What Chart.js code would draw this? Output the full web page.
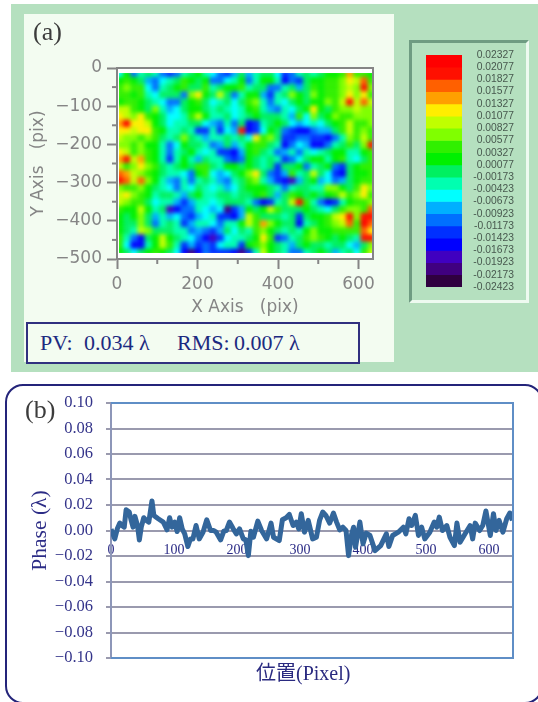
<!DOCTYPE html>
<html>
<head>
<meta charset="utf-8">
<title>Phase map</title>
<script src="https://cdn.jsdelivr.net/npm/chart.js@4"></script>
<style>
html, body { margin: 0; padding: 0; background: #fff; }
#page { position: relative; width: 538px; height: 702px; overflow: hidden; font-family: "Liberation Serif", "Noto Sans CJK JP", serif; }
#page > * { position: absolute; }
canvas { display: block; }
#greenBack { left: 11px; top: 4px; width: 527px; height: 368px; background: #b5e0bf; }
#paleBack { left: 24px; top: 14px; width: 370px; height: 348px; background: #f3fcf1; }
#barBox { left: 409px; top: 40px; width: 114px; height: 257px; background: #b5e0bf; border: 3px solid; border-color: #6f9c82 #eefaf0 #eefaf0 #6f9c82; }
#heatClip { left: 119px; top: 73px; width: 253px; height: 180px; overflow: hidden; }
#heatChart { position: absolute; left: -3px; top: -3px; filter: blur(2px); }
#pvBox { left: 26px; top: 322px; width: 330px; height: 38px; background: #f3fcf1; border: 2px solid #30307f; }
.pv { top: 330px; font-size: 22px; line-height: 26px; color: #1c2a80; white-space: nowrap; }
#roundBox { left: 5px; top: 384px; width: 534px; height: 316px; border: 2px solid #24247a; border-radius: 18px; }
.tag { font-size: 26px; line-height: 30px; color: #3c3c3c; }
#xName { left: 256px; top: 661px; font-size: 20px; line-height: 24px; color: #2a2a80; white-space: nowrap; }
</style>
</head>
<body>
<div id="page">
  <div id="greenBack"></div>
  <div id="paleBack"></div>
  <canvas id="axesChart" width="400" height="330" style="left:0;top:0"></canvas>
  <div id="heatClip"><canvas id="heatChart" width="259" height="186"></canvas></div>
  <div class="tag" style="left:33px;top:17px">(a)</div>
  <div id="pvBox"></div>
  <div class="pv" style="left:40px">PV:</div>
  <div class="pv" style="left:84px">0.034 λ</div>
  <div class="pv" style="left:177px">RMS:</div>
  <div class="pv" style="left:234px">0.007 λ</div>
  <div id="barBox"></div>
  <canvas id="barChart" width="118" height="263" style="left:411px;top:40px"></canvas>
  <div id="roundBox"></div>
  <canvas id="lineChart" width="538" height="318" style="left:0;top:384px"></canvas>
  <div class="tag" style="left:25px;top:395px">(b)</div>
  <div id="xName">位置(Pixel)</div>
</div>
<script>
// leyenda de colores, de arriba a abajo
var barLabels = [0.02327, 0.02077, 0.01827, 0.01577, 0.01327, 0.01077, 0.00827, 0.00577, 0.00327, 0.00077,
    -0.00173, -0.00423, -0.00673, -0.00923, -0.01173, -0.01423, -0.01673, -0.01923, -0.02173, -0.02423];
var barColors = ['#ff0000', '#ff1000', '#ff6000', '#ffa000', '#ffee00', '#c0ff00', '#80ff00', '#30f000', '#00f000', '#00f060',
    '#00ffb0', '#00ffff', '#00b0ff', '#0070ff', '#0030ff', '#0000ff', '#4000c0', '#400080', '#300040'];

// mapa (a): nivel de color de cada celda, 0 = banda mas baja, 18 = banda mas alta
var heatRows = [
    [7,10,5,8,9,8,5,4,5,8,9,10,8,7,5,4,6,9,6,8,9,9,7,4,5,8,9,8,9,10,10,11,15,11,11,10],
    [10,11,10,9,6,5,7,8,9,11,10,9,10,5,5,7,8,10,5,8,10,10,8,3,5,4,9,10,10,11,11,12,14,13,16,11],
    [11,12,11,11,7,5,8,9,10,11,9,9,11,8,9,10,10,11,8,9,9,5,5,8,9,6,9,11,10,11,11,12,13,12,17,12],
    [11,11,10,11,8,7,9,9,9,5,12,14,10,9,13,9,5,8,10,10,6,4,8,9,12,10,9,12,10,11,11,12,14,12,14,11],
    [10,11,11,10,9,8,7,5,5,9,10,11,9,7,8,9,7,9,11,12,8,5,8,7,9,10,9,10,10,12,11,13,17,13,16,13],
    [13,13,11,10,9,12,8,6,7,9,10,10,9,8,9,8,7,8,10,11,8,6,5,8,7,9,10,14,10,9,11,12,12,13,12,12],
    [14,13,12,14,11,10,9,7,7,8,11,13,10,8,8,9,7,8,9,10,9,9,9,8,6,11,7,12,9,10,12,11,11,12,12,12],
    [15,18,14,14,13,10,9,7,8,8,9,9,7,6,5,8,5,9,3,4,8,9,10,9,7,6,7,8,7,9,10,11,13,11,11,12],
    [14,14,13,14,14,11,10,8,8,9,8,4,4,8,4,7,6,17,3,4,7,10,9,5,4,3,3,5,6,6,9,11,13,11,12,11],
    [13,12,12,11,12,11,9,8,9,12,9,8,6,8,8,9,8,9,7,14,11,12,9,4,4,5,5,4,4,3,5,8,12,11,13,11],
    [12,12,11,12,10,10,8,5,7,10,9,9,8,5,6,9,6,8,10,11,11,9,8,3,5,7,6,3,3,5,8,9,11,9,12,17],
    [14,13,11,12,11,10,8,5,8,9,10,8,7,8,4,4,3,6,10,11,9,8,5,6,8,5,8,7,8,9,10,10,8,8,10,11],
    [15,17,13,15,11,10,8,4,8,10,8,6,9,8,8,5,4,5,10,9,8,9,8,4,5,7,9,10,10,8,10,11,8,7,9,11],
    [13,11,12,14,12,11,9,8,9,10,9,11,11,9,8,10,10,9,10,9,8,9,4,9,9,10,5,8,9,10,5,4,9,10,11,11],
    [16,15,13,12,11,10,9,8,8,7,5,10,11,7,6,7,9,10,12,14,9,5,4,6,11,8,9,13,9,7,4,3,9,10,10,11],
    [17,16,13,16,12,10,8,6,5,8,5,8,9,8,6,5,8,9,11,12,8,6,4,3,2,6,9,10,6,7,5,6,9,10,11,11],
    [12,11,11,12,10,9,8,7,5,8,7,9,8,7,8,6,7,9,10,10,10,9,8,5,8,9,9,8,8,12,12,10,9,11,14,12],
    [13,14,12,11,10,8,9,9,8,6,9,10,8,8,9,9,8,9,9,10,11,9,6,9,11,10,9,10,9,10,11,13,11,12,14,11],
    [13,12,11,11,9,7,8,8,6,4,6,8,8,7,8,9,9,9,8,5,3,4,8,9,13,17,11,8,5,3,4,8,10,11,11,12],
    [11,10,10,13,10,8,9,2,3,5,5,8,7,6,7,1,4,6,10,9,10,13,11,9,9,9,10,9,8,7,9,11,12,12,11,16],
    [10,9,10,12,9,6,8,6,7,5,4,6,7,8,4,4,3,6,13,11,9,9,9,8,9,4,9,10,10,11,13,14,17,12,17,17],
    [10,9,9,12,9,5,8,9,8,4,6,8,8,7,5,8,8,10,13,11,15,12,10,9,9,3,8,9,10,11,12,13,16,11,18,16],
    [10,9,8,13,12,9,9,9,8,8,5,6,5,4,6,9,7,9,8,11,12,10,9,8,9,8,10,12,10,10,11,11,11,11,16,14],
    [11,8,5,3,9,10,13,10,9,8,7,5,3,2,4,7,8,8,9,10,14,11,4,5,8,9,11,12,11,10,9,10,9,8,17,17],
    [11,7,3,3,8,10,13,11,8,4,6,4,5,4,7,8,8,4,10,11,12,10,9,8,6,9,10,9,9,8,9,9,7,6,9,12],
    [10,9,7,9,10,11,10,9,7,3,1,3,5,4,4,4,3,1,4,8,13,10,9,8,5,5,8,9,10,9,6,8,9,7,11,13]
];

// curva (b): posicion en pixel y fase en lambda
var pixelX = [0, 3, 6, 10, 14, 17, 21, 24, 29, 32, 35, 38, 42, 45, 48, 52, 56, 60, 65, 68, 75, 83, 89, 93, 97, 101, 105, 109, 113, 117,
    122, 126, 130, 135, 140, 146, 152, 158, 163, 167, 174, 179, 183, 188, 194, 199, 204, 210, 214, 218, 222, 226, 233, 239, 247, 254, 258, 267, 272, 278,
    283, 289, 294, 298, 302, 307, 313, 320, 326, 331, 336, 341, 347, 353, 358, 363, 368, 373, 377, 382, 385, 388, 395, 400, 405, 411, 419, 428, 437, 441,
    447, 456, 464, 468, 473, 477, 483, 488, 493, 498, 506, 513, 517, 521, 526, 533, 538, 545, 549, 554, 562, 570, 574, 578, 585, 590, 595, 602, 607, 611,
    616, 622, 628, 633, 637];
var phaseY = [0.001, -0.0026, -0.0066, 0.0013, 0.0058, 0.0039, 0.0026, 0.0163, 0.0145, 0.0079, 0.0026, 0.0111, 0.0039, -0.0074, 0.0026, 0.01, 0.0079, 0.0066, 0.0232, 0.0118, 0.0092, 0.0066, 0.0005, 0.01, 0.0026, 0.0066, -0.0008, 0.01, 0.0013, -0.0026,
    -0.0126, -0.0066, -0.0066, 0.0039, -0.0066, -0.0013, 0.0084, 0, 0, -0.0013, -0.0074, -0.0005, 0, 0.0066, 0.0013, -0.0026, 0.0013, -0.0066, -0.0074, -0.0197, -0.0005, -0.0053, 0.0074, 0, -0.0066, 0.0058, -0.0053, -0.0079, 0.0084, 0.01,
    0.0126, 0.0039, 0.0066, 0.0013, 0.0132, -0.0013, 0.0079, -0.0066, -0.0053, 0.0079, 0.0145, 0.0118, 0.0058, 0.0137, 0.0066, 0.0005, 0.0026, 0, -0.0197, -0.0026, 0.0026, -0.0132, 0.0066, -0.0105, -0.0021, -0.0039, -0.0158, -0.0118, -0.0026, -0.0126,
    -0.0039, -0.0013, 0.0026, -0.0026, 0.0092, 0.0039, 0.0118, -0.0039, 0.0026, -0.0066, -0.0013, 0.0066, 0.0026, 0.0105, 0, 0.0039, -0.0053, -0.0118, 0.0058, -0.0092, -0.0026, 0.0039, -0.0066, 0.0058, 0, 0.0039, 0.0153, -0.0039, 0.0132, 0,
    0.0079, -0.0013, 0.0092, 0.0137, 0.0079];

var axisGray = '#858585';
var navy = '#34348a';
var minus = function (txt) { return String(txt).replace('-', '\u2212'); };

// marco gris del mapa y marcas cortas entre las largas
var axesExtras = {
    id: 'axesExtras',
    beforeDraw: function (chart) {
        var a = chart.chartArea, c = chart.ctx;
        c.fillStyle = '#ffffff';
        c.fillRect(a.left, a.top, a.width, a.height);
    },
    afterDraw: function (chart) {
        var a = chart.chartArea, c = chart.ctx;
        c.save();
        c.strokeStyle = axisGray;
        c.lineWidth = 2;
        c.strokeRect(a.left, a.top, a.width, a.height);
        chart.scales.x.ticks.forEach(function (t) {
            if (t.value % 200 != 0) {
                var px = chart.scales.x.getPixelForValue(t.value);
                c.beginPath(); c.moveTo(px, a.bottom); c.lineTo(px, a.bottom + 5); c.stroke();
            }
        });
        chart.scales.y.ticks.forEach(function (t) {
            if (t.value % 100 != 0) {
                var py = chart.scales.y.getPixelForValue(t.value);
                c.beginPath(); c.moveTo(a.left, py); c.lineTo(a.left - 5, py); c.stroke();
            }
        });
        c.restore();
    }
};

new Chart(document.getElementById('axesChart'), {
    type: 'scatter',
    data: { datasets: [{ data: [] }] },
    plugins: [axesExtras],
    options: {
        responsive: false,
        animation: false,
        layout: { autoPadding: false, padding: { left: 0, top: 68, right: 27, bottom: 12 } },
        plugins: { legend: { display: false }, tooltip: { enabled: false } },
        scales: {
            x: {
                type: 'linear', min: 0, max: 636,
                afterFit: function (s) { s.height = 59; },
                grid: { drawOnChartArea: false, tickLength: 10, tickWidth: 2,
                    tickColor: function (ctx) { return ctx.tick && ctx.tick.value % 200 == 0 ? axisGray : 'transparent'; } },
                border: { color: axisGray, width: 2 },
                title: { display: true, text: 'X Axis   (pix)', color: axisGray, padding: { top: 0, bottom: 0 }, font: { family: 'DejaVu Sans', size: 17 } },
                ticks: { stepSize: 100, includeBounds: false, autoSkip: false, maxRotation: 0, padding: 5, color: axisGray, font: { family: 'DejaVu Sans', size: 17 },
                    callback: function (v) { return v % 200 == 0 ? String(v) : ''; } }
            },
            y: {
                type: 'linear', min: -500, max: 0,
                afterFit: function (s) { s.width = 117; },
                grid: { drawOnChartArea: false, tickLength: 10, tickWidth: 2,
                    tickColor: function (ctx) { return ctx.tick && ctx.tick.value % 100 == 0 ? axisGray : 'transparent'; } },
                border: { color: axisGray, width: 2 },
                title: { display: true, text: 'Y Axis   (pix)', color: axisGray, padding: { top: 28, bottom: 0 }, font: { family: 'DejaVu Sans', size: 17 } },
                ticks: { stepSize: 50, autoSkip: false, padding: 5, color: axisGray, font: { family: 'DejaVu Sans', size: 17 },
                    callback: function (v) { return v % 100 == 0 ? minus(v) : ''; } }
            }
        }
    }
});

// celdas del mapa, como puntos cuadrados sobre las mismas unidades de pix
var heatPoints = [];
var heatColors = [];
var xFirst = 5, xLast = 633, yFirst = -14, yLast = -484;
var cols = heatRows[0].length, rows = heatRows.length;
for (var r = 0; r < rows; r++) {
    for (var k = 0; k < cols; k++) {
        heatPoints.push({
            x: xFirst + (k + 0.5) * (xLast - xFirst) / cols,
            y: yFirst + (r + 0.5) * (yLast - yFirst) / rows
        });
        heatColors.push(barColors[18 - heatRows[r][k]]);
    }
}
new Chart(document.getElementById('heatChart'), {
    type: 'scatter',
    data: { datasets: [{ data: heatPoints, pointStyle: 'rect', pointRadius: 5.3, pointBorderWidth: 0, pointBackgroundColor: heatColors }] },
    options: {
        responsive: false,
        animation: false,
        layout: { autoPadding: false, padding: 0 },
        plugins: { legend: { display: false }, tooltip: { enabled: false } },
        scales: {
            x: { type: 'linear', display: false, min: xFirst, max: xLast },
            y: { type: 'linear', display: false, min: yLast, max: yFirst }
        }
    }
});

// barra de colores, una barra flotante por banda
var barSets = [];
for (var b = 0; b < barColors.length; b++) {
    barSets.push({ data: [[barLabels[b + 1], barLabels[b]]], backgroundColor: barColors[b], grouped: false, barPercentage: 1, categoryPercentage: 1 });
}
new Chart(document.getElementById('barChart'), {
    type: 'bar',
    data: { labels: [''], datasets: barSets },
    options: {
        responsive: false,
        animation: false,
        layout: { autoPadding: false, padding: { left: 15, top: 15, right: 15, bottom: 16 } },
        plugins: { legend: { display: false }, tooltip: { enabled: false } },
        scales: {
            x: { display: false },
            y: {
                position: 'right',
                min: barLabels[barLabels.length - 1], max: barLabels[0],
                afterFit: function (s) { s.width = 52; s.paddingTop = 0; s.paddingBottom = 0; },
                afterBuildTicks: function (s) { s.ticks = barLabels.map(function (v) { return { value: v }; }); },
                grid: { display: false },
                border: { display: false },
                ticks: { autoSkip: false, padding: 13, crossAlign: 'far', color: '#47584e', font: { family: 'Liberation Sans', size: 10.3 },
                    callback: function (v) { return v.toFixed(5); } }
            }
        }
    }
});

// marco azul de la grafica (b)
var lineFrame = {
    id: 'lineFrame',
    afterDraw: function (chart) {
        var a = chart.chartArea, c = chart.ctx;
        c.save();
        c.strokeStyle = '#5f8ec6';
        c.lineWidth = 2;
        c.beginPath();
        c.moveTo(a.left, a.top); c.lineTo(a.right, a.top); c.lineTo(a.right, a.bottom); c.lineTo(a.left, a.bottom);
        c.stroke();
        c.restore();
    }
};

new Chart(document.getElementById('lineChart'), {
    type: 'scatter',
    data: { datasets: [{
        data: pixelX.map(function (v, i) { return { x: v, y: phaseY[i] }; }),
        showLine: true, borderColor: '#33669b', borderWidth: 5, pointRadius: 0, tension: 0, borderJoinStyle: 'round'
    }] },
    plugins: [lineFrame],
    options: {
        responsive: false,
        animation: false,
        layout: { autoPadding: false, padding: { left: 0, top: 19, right: 25, bottom: 44 } },
        plugins: { legend: { display: false }, tooltip: { enabled: false } },
        scales: {
            x: {
                type: 'linear', min: 0, max: 638,
                position: { y: 0 },
                afterFit: function (s) { s.height = 0; },
                grid: { display: false },
                border: { display: false },
                ticks: { stepSize: 100, includeBounds: false, autoSkip: false, maxRotation: 0, padding: 3, color: '#2c2c86', font: { family: 'Liberation Serif', size: 14 } }
            },
            y: {
                type: 'linear', min: -0.1, max: 0.1,
                afterFit: function (s) { s.width = 111; s.paddingTop = 0; s.paddingBottom = 0; },
                grid: { color: '#9a9aae', lineWidth: 2, tickColor: '#9a9aae', tickLength: 5 },
                border: { color: '#8d96b8', width: 2 },
                title: { display: true, text: 'Phase (λ)', color: '#2c2c86', padding: { top: 27, bottom: 0 }, font: { family: 'Liberation Serif', size: 21.5 } },
                ticks: { stepSize: 0.02, autoSkip: false, padding: 13, color: navy, font: { family: 'Liberation Serif', size: 16.5 },
                    callback: function (v) { return minus(v.toFixed(2)); } }
            }
        }
    }
});
</script>
</body>
</html>
